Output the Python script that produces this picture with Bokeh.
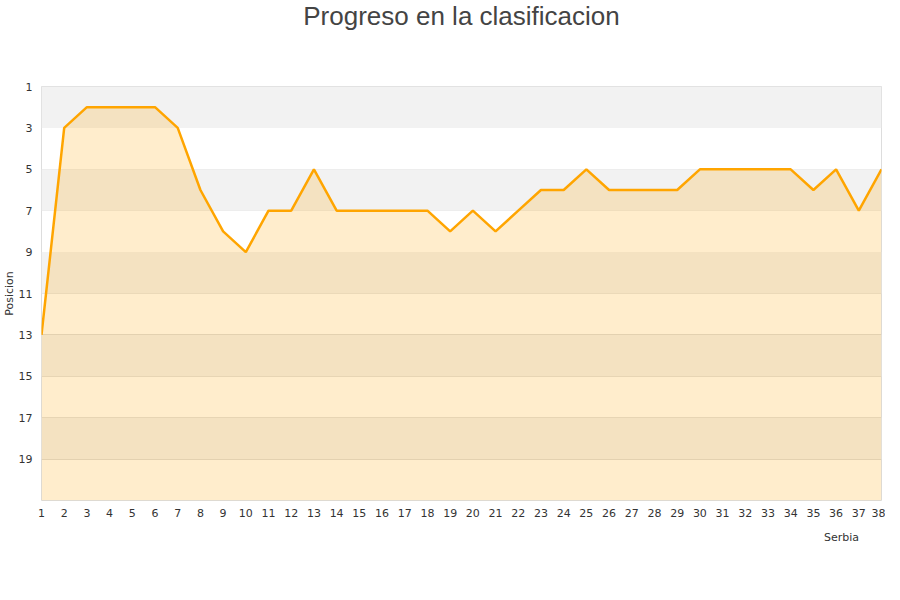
from bokeh.plotting import figure
from bokeh.layouts import column
from bokeh.models import (Range1d, FixedTicker, BoxAnnotation, Legend, LegendItem,
                          ColumnDataSource, Title, LinearAxis)
from bokeh.embed import file_html
from bokeh.resources import INLINE

# ---- data ----
jornadas = list(range(1, 39))
posicion = [13, 3, 2, 2, 2, 2, 3, 6, 8, 9, 7, 7, 5, 7, 7, 7, 7, 7, 8, 7,
            8, 7, 6, 6, 5, 6, 6, 6, 6, 5, 5, 5, 5, 5, 6, 5, 7, 5]
team = "Serbia"
title_text = "Progreso en la clasificacion"
y_label = "Posicion"
y_ticks = [1, 3, 5, 7, 9, 11, 13, 15, 17, 19]
band_starts = [1, 5, 9, 13, 17]
band_height = 2
y_bottom = 21

src = ColumnDataSource(dict(x=jornadas, y=posicion, base=[y_bottom] * len(jornadas)))

p = figure(width=884, height=526, output_backend="svg", toolbar_location=None,
           x_range=Range1d(jornadas[0], jornadas[-1]),
           y_range=Range1d(y_bottom, y_ticks[0]),
           min_border_left=40, min_border_right=4, min_border_top=0,
           min_border_bottom=26)
p.frame_width = 840
p.frame_height = 414
xax = p.below[0]
yax = p.left[0]

p.title = Title(text=title_text, align="center", vertical_align="top", standoff=0,
                text_font="Liberation Sans",
                text_font_size="26px", text_font_style="normal", text_color="#444444")

# blank spacer between title and plot area (one invisible tick, no labels)
spacer = LinearAxis(ticker=FixedTicker(ticks=[jornadas[0]]), major_tick_out=54,
                    major_tick_in=0, axis_line_color=None,
                    major_tick_line_color=None, minor_tick_line_color=None,
                    major_label_text_color=None, major_label_text_font_size="0px",
                    major_label_standoff=0)
p.add_layout(spacer, "above")

p.add_layout(Title(text=y_label, align="center", standoff=0, text_font="DejaVu Sans",
                   text_font_size="11px", text_font_style="normal",
                   text_color="#333333"), "left")

p.outline_line_color = "#dddddd"
p.background_fill_color = "white"
p.border_fill_color = "white"

for b in band_starts:
    p.add_layout(BoxAnnotation(top=b, bottom=b + band_height, fill_color="#f2f2f2",
                               fill_alpha=1.0, line_color=None, level="underlay"))

area = p.varea(x="x", y1="y", y2="base", source=src, fill_color="#FFA500", fill_alpha=0.2)
line = p.line(x="x", y="y", source=src, line_color="#FFA500", line_width=2.5)

xax.ticker = FixedTicker(ticks=jornadas)
yax.ticker = FixedTicker(ticks=y_ticks)
for ax in (xax, yax):
    ax.axis_line_color = None
    ax.major_tick_line_color = None
    ax.minor_tick_line_color = None
    ax.major_label_text_font = "DejaVu Sans"
    ax.major_label_text_font_size = "11px"
    ax.major_label_text_color = "#333333"
xax.major_label_standoff = 2
yax.major_label_standoff = 3

p.xgrid.grid_line_color = None
p.ygrid.ticker = FixedTicker(ticks=y_ticks)
p.ygrid.grid_line_color = "#dddddd"
p.ygrid.grid_line_width = 1

# legend strip below the chart
lf = figure(width=884, height=40, output_backend="svg", toolbar_location=None,
            x_range=Range1d(0, 1), y_range=Range1d(0, 1),
            x_axis_type=None, y_axis_type=None,
            min_border_left=0, min_border_right=0, min_border_top=0,
            min_border_bottom=0)
lf.outline_line_color = None
lf.xgrid.grid_line_color = None
lf.ygrid.grid_line_color = None
leg_r = lf.quad(left=[], right=[], top=[], bottom=[], fill_color="#FFE8C0",
                line_color="#999999", line_width=1)
legend = Legend(items=[LegendItem(label=team, renderers=[leg_r])],
                location=(765, 22), orientation="horizontal",
                label_text_font="DejaVu Sans", label_text_font_size="11px",
                label_text_color="#333333", border_line_color=None,
                background_fill_alpha=0, glyph_width=9, glyph_height=9,
                padding=4, margin=0, spacing=4, label_standoff=9)
lf.add_layout(legend, "center")

layout = column(p, lf, spacing=0)
open("out.html", "w").write(file_html(layout, INLINE))
